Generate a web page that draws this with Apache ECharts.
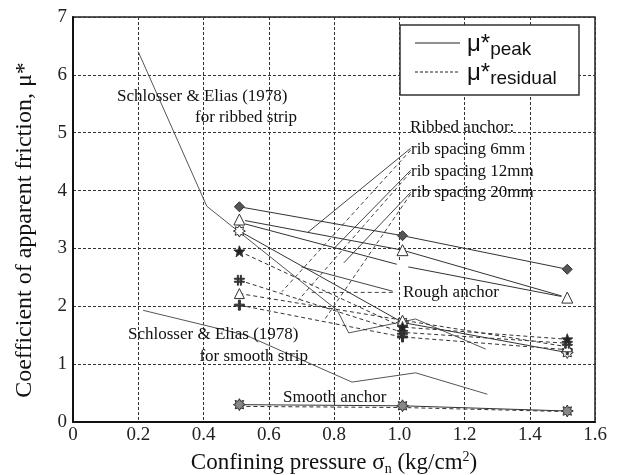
<!DOCTYPE html>
<html>
<head>
<meta charset="utf-8">
<script src="https://cdn.jsdelivr.net/npm/echarts@6/dist/echarts.min.js"></script>
<style>
  html, body { margin: 0; padding: 0; background: #fff; }
  #chart { width: 617px; height: 475px; }
</style>
</head>
<body>
<div id="chart"></div>
<script>
// confining pressure of the tests (kg/cm2)
const pressure = [0.51, 1.01, 1.515]
// peak friction (solid)
const peak6 = [3.72, 3.22, 2.64]
const peak12 = [3.50, 2.97, 2.15]
const peak20 = [3.45, 2.70, 2.15]
const peakRough = [3.30, 1.72, 1.20]
const peakSmooth = [0.30, 0.28, 0.19]
// residual friction (dashed)
const res6 = [2.02, 1.47, 1.25]
const res12 = [2.22, 1.76, 1.30]
const res20 = [2.45, 1.55, 1.36]
const resRough = [2.95, 1.64, 1.43]
const resSmooth = [0.27, 0.25, 0.18]
// Schlosser & Elias (1978)
const ribbedStripX = [0.2, 0.41, 0.81, 0.845, 1.05, 1.265]
const ribbedStripY = [6.4, 3.73, 1.93, 1.54, 1.78, 1.26]
const smoothStripX = [0.215, 0.53, 0.855, 1.05, 1.27]
const smoothStripY = [1.93, 1.50, 0.69, 0.85, 0.48]
// leader lines of the labels
const ribLeaderSolid = [
  [[1.035, 4.73], [0.72, 3.28]],
  [[1.035, 4.35], [0.80, 3.00]],
  [[1.035, 3.97], [0.83, 2.75]]
]
const ribLeaderDashed = [
  [[1.035, 4.70], [0.64, 2.25]],
  [[1.035, 4.32], [0.69, 2.10]],
  [[1.035, 3.94], [0.77, 1.76]]
]
const roughLeaderSolid = [[0.98, 2.26], [0.70, 2.68]]
const roughLeaderDashed = [[0.98, 2.24], [0.726, 2.24]]

const pts = (xs, ys) => xs.map((x, i) => [x, ys[i]])

// marker shapes
function starPath(n, ro, ri) {
  let d = ''
  for (let k = 0; k < n * 2; k++) {
    const r = k % 2 ? ri : ro
    const a = Math.PI * k / n - Math.PI / 2
    d += (k ? 'L' : 'M') + (r * Math.cos(a)).toFixed(2) + ',' + (r * Math.sin(a)).toFixed(2)
  }
  return 'path://' + d + 'Z'
}
const SYM_STAR = starPath(5, 10, 4)
const SYM_GEAR = starPath(8, 10, 6)
const SYM_HASH = 'path://M-4,-10L-2,-10L-2,10L-4,10Z M2,-10L4,-10L4,10L2,10Z M-10,-4L10,-4L10,-2L-10,-2Z M-10,2L10,2L10,4L-10,4Z'
const SYM_PLUS = 'path://M-2,-10L2,-10L2,-2L10,-2L10,2L2,2L2,10L-2,10L-2,2L-10,2L-10,-2L-2,-2Z'

const ink = '#333'
const serif = 'Liberation Serif'

function dataLine(ys, dashed, symbol, size, fill) {
  return {
    type: 'line',
    data: pts(pressure, ys),
    symbol: symbol,
    symbolSize: size,
    showSymbol: true,
    lineStyle: { color: ink, width: 1, type: dashed ? [4, 3] : 'solid' },
    itemStyle: { color: fill, borderColor: ink, borderWidth: 1 },
    z: 3,
    silent: true
  }
}

function guide(data, dashed, color) {
  return {
    type: 'line',
    data: data,
    symbol: 'none',
    lineStyle: { color: color || '#555', width: 1, type: dashed ? [4, 3] : 'solid' },
    z: 2,
    silent: true
  }
}

const chart = echarts.init(document.getElementById('chart'))

const txt = (text, x, y, align) => ({
  type: 'text',
  x: x, y: y,
  style: {
    text: text, fill: '#111', font: '17px "' + serif + '"',
    align: align || 'left', verticalAlign: 'middle'
  },
  z: 10
})

const legendRich = {
  m: { font: '24px "Liberation Sans"', fill: '#111' },
  s: { font: '19px "Liberation Sans"', fill: '#111', padding: [11, 0, 0, 0] }
}

const option = {
  animation: false,
  backgroundColor: '#fff',
  grid: {
    left: 73, right: 22, top: 17, bottom: 53,
    outerBoundsMode: 'none',
    show: true, borderColor: '#222', borderWidth: 1.5
  },
  xAxis: {
    type: 'value', min: 0, max: 1.6, interval: 0.2,
    name: '{a|Confining pressure σ}{s|n}{a| (kg/cm}{p|2}{a|)}',
    nameLocation: 'middle', nameGap: 25,
    nameTextStyle: {
      rich: {
        a: { fontFamily: serif, fontSize: 23, color: '#111' },
        s: { fontFamily: serif, fontSize: 14, color: '#111', verticalAlign: 'bottom', padding: [12, 0, 0, 0] },
        p: { fontFamily: serif, fontSize: 14, color: '#111', verticalAlign: 'top', padding: [0, 0, 9, 0] }
      }
    },
    axisLine: { lineStyle: { color: '#111', width: 2 } },
    axisTick: { show: false },
    axisLabel: {
      fontFamily: serif, fontSize: 19, color: '#222', margin: 4,
      formatter: v => v === 0 ? '0' : v.toFixed(1)
    },
    splitLine: { lineStyle: { color: '#333', type: [3, 2], width: 1 } }
  },
  yAxis: {
    type: 'value', min: 0, max: 7, interval: 1,
    axisLine: { show: true, lineStyle: { color: '#111', width: 2 } },
    axisTick: { show: false },
    axisLabel: { fontFamily: serif, fontSize: 19, color: '#222', margin: 6 },
    splitLine: { lineStyle: { color: '#333', type: [3, 2], width: 1 } }
  },
  series: [
    guide(pts(ribbedStripX, ribbedStripY), false),
    guide(pts(smoothStripX, smoothStripY), false),
    ...ribLeaderSolid.map(d => guide(d, false, '#444')),
    ...ribLeaderDashed.map(d => guide(d, true, '#444')),
    guide(roughLeaderSolid, false, '#444'),
    guide(roughLeaderDashed, true, '#444'),
    dataLine(peak20, false, 'emptyCircle', 10, '#fff'),
    dataLine(peak6, false, 'diamond', 10, '#555'),
    dataLine(peak12, false, 'triangle', 11, '#fff'),
    dataLine(peakRough, false, SYM_GEAR, 12, '#fff'),
    dataLine(peakSmooth, false, SYM_GEAR, 12, '#888'),
    dataLine(res6, true, SYM_PLUS, 10, '#333'),
    dataLine(res12, true, 'triangle', 10, '#fff'),
    dataLine(res20, true, SYM_HASH, 10, '#333'),
    dataLine(resRough, true, SYM_STAR, 11, '#222'),
    dataLine(resSmooth, true, 'none', 6, '#888')
  ],
  graphic: [
    // y axis title
    {
      type: 'text', x: 25, y: 230, rotation: Math.PI / 2,
      style: { text: 'Coefficient of apparent friction, μ*', fill: '#111',
        font: '24px "' + serif + '"', align: 'center', verticalAlign: 'middle' }
    },
    txt('Schlosser & Elias (1978)', 117, 97),
    txt('for ribbed strip', 297, 118, 'right'),
    txt('Schlosser & Elias (1978)', 128, 335),
    txt('for smooth strip', 308, 357, 'right'),
    txt('Ribbed anchor:', 410, 128),
    txt('rib spacing 6mm', 411, 150),
    txt('rib spacing 12mm', 411, 172),
    txt('rib spacing 20mm', 411, 193),
    txt('Rough anchor', 403, 293),
    txt('Smooth anchor', 283, 398),
    // legend box
    {
      type: 'rect', shape: { x: 400, y: 25, width: 179, height: 70 },
      style: { fill: '#fff', stroke: '#333', lineWidth: 1.5 }, z: 20
    },
    { type: 'line', shape: { x1: 415, y1: 43, x2: 460, y2: 43 }, style: { stroke: '#222', lineWidth: 1 }, z: 21 },
    { type: 'line', shape: { x1: 415, y1: 72, x2: 460, y2: 72 }, style: { stroke: '#222', lineWidth: 1, lineDash: [3, 2] }, z: 21 },
    {
      type: 'text', x: 467, y: 44, z: 21,
      style: { text: '{m|μ*}{s|peak}', verticalAlign: 'middle', rich: legendRich }
    },
    {
      type: 'text', x: 467, y: 73, z: 21,
      style: { text: '{m|μ*}{s|residual}', verticalAlign: 'middle', rich: legendRich }
    }
  ]
}

chart.setOption(option)
</script>
</body>
</html>
